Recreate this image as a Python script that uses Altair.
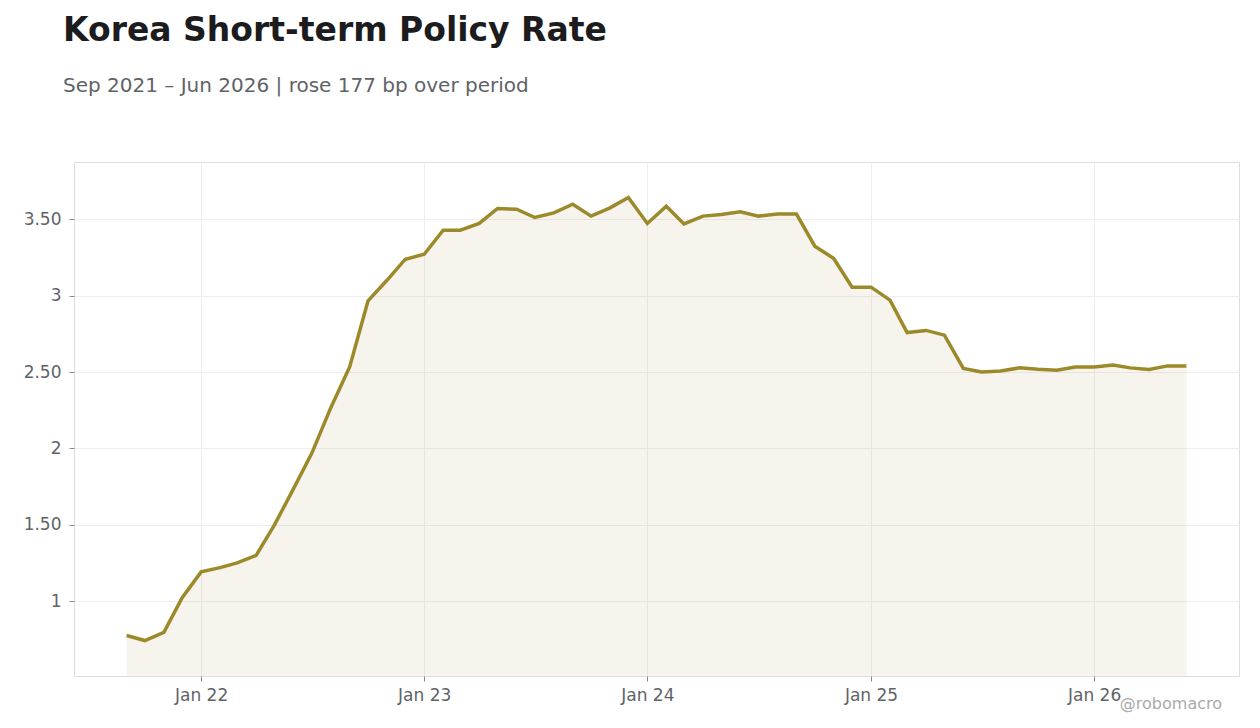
import altair as alt
import pandas as pd

# Monthly observations, Sep 2021 .. Jun 2026
start_month = "2021-09-01"
n_months = 58
rates = [
    0.776, 0.743, 0.797, 1.024, 1.192, 1.220, 1.251, 1.300, 1.500, 1.735,
    1.968, 2.265, 2.533, 2.965, 3.100, 3.238, 3.270, 3.428, 3.428, 3.472,
    3.570, 3.565, 3.511, 3.541, 3.598, 3.520, 3.574, 3.642, 3.472, 3.585,
    3.469, 3.520, 3.531, 3.548, 3.520, 3.533, 3.533, 3.323, 3.243, 3.055,
    3.055, 2.970, 2.758, 2.772, 2.741, 2.523, 2.500, 2.507, 2.527, 2.518,
    2.512, 2.533, 2.533, 2.546, 2.527, 2.516, 2.540, 2.540,
]
y_ticks = [1, 1.5, 2, 2.5, 3, 3.5]

dates = pd.date_range(start_month, periods=n_months, freq="MS")
df = pd.DataFrame({"date": dates, "rate": rates})

LINE = "#9c8a2a"
FILL = "#a17e37"
GRAY = "#5f6368"

x_enc = alt.X(
    "date:T",
    title=None,
    scale=alt.Scale(
        domain=[alt.DateTime(year=2021, month=6, date=7),
                alt.DateTime(year=2026, month=8, date=26)],
    ),
    axis=alt.Axis(
        format="%b %y",
        tickCount={"interval": "year", "step": 1},
        labelFontSize=17,
        labelColor=GRAY,
        labelFont="DejaVu Sans",
        tickColor="#888888",
        tickSize=5,
        labelPadding=6,
        gridColor="#eeeeee",
        domain=False,
    ),
)
y_enc = alt.Y(
    "rate:Q",
    title=None,
    scale=alt.Scale(domain=[0.511, 3.874], nice=False, zero=False),
    axis=alt.Axis(
        values=y_ticks,
        labelExpr="datum.value % 1 == 0 ? format(datum.value, 'd') : format(datum.value, '.2f')",
        labelFontSize=17,
        labelColor=GRAY,
        labelFont="DejaVu Sans",
        tickColor="#888888",
        tickSize=5,
        labelPadding=8,
        gridColor="#eeeeee",
        domain=False,
    ),
)

base = alt.Chart(df)
area = base.mark_area(color=FILL, opacity=0.085, clip=True).encode(x=x_enc, y=y_enc)
line = base.mark_line(color=LINE, strokeWidth=3.5).encode(x="date:T", y="rate:Q")
mark_text = alt.Chart(pd.DataFrame({"t": ["@robomacro"]})).mark_text(
    align="right", baseline="alphabetic", fontSize=16, color="#aaaaaa",
    font="DejaVu Sans",
).encode(text="t:N", x=alt.value(1148), y=alt.value(547))

chart = (
    alt.layer(area, line, mark_text)
    .properties(
        width=1165,
        height=514,
        autosize=alt.AutoSizeParams(type="none"),
        padding={"left": 66, "top": 154, "right": 12, "bottom": 40},
        title=alt.TitleParams(
            text="Korea Short-term Policy Rate",
            subtitle="Sep 2021 – Jun 2026 | rose 177 bp over period",
            anchor="start",
            frame="group",
            dx=-11,
            offset=66,
            font="DejaVu Sans",
            fontSize=33,
            fontWeight="bold",
            color="#1c1c1e",
            subtitleFont="DejaVu Sans",
            subtitleFontSize=20,
            subtitleColor=GRAY,
            subtitlePadding=28,
        ),
    )
    .configure_view(stroke="#dddddd", strokeWidth=1)
    .configure(background="white")
)

chart.save("out.html", embed_options={"renderer": "svg", "actions": False})
